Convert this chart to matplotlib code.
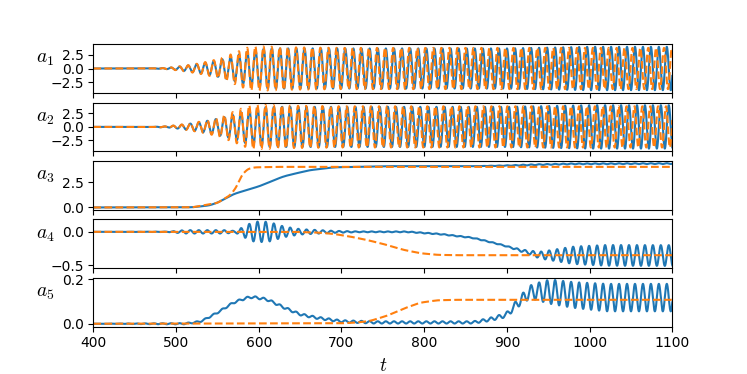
import numpy as np
import matplotlib
matplotlib.use('Agg')
import matplotlib.pyplot as plt

plt.rcParams['mathtext.fontset'] = 'cm'

# time axis
t_start, t_end = 400, 1100
t = np.linspace(t_start, t_end, 14001)
dt = t[1] - t[0]

# oscillation period (blue / orange)
period_t = [400, 540, 600, 1100]
period_blue = [10.5, 10.3, 9.9, 9.6]
period_orange = [10.5, 10.3, 9.85, 9.52]

# a1 / a2 envelopes
env_t_blue = [400, 470, 490, 510, 530, 550, 570, 590, 610, 640, 900, 950, 1000, 1100]
env_blue = [0, 0.01, 0.1, 0.45, 0.9, 1.5, 2.25, 3.3, 3.7, 3.7, 3.7, 3.85, 4.0, 4.0]
env_t_orange = [400, 470, 490, 510, 530, 550, 570, 590, 610, 640, 700, 1100]
env_orange = [0, 0.01, 0.12, 0.5, 1.0, 1.7, 2.8, 4.1, 4.05, 3.9, 3.8, 3.8]

# a3
a3_t_blue = [400, 520, 540, 550, 570, 600, 630, 660, 690, 750, 860, 900, 940, 980, 1100]
a3_blue = [0, 0.02, 0.2, 0.47, 1.35, 2.1, 3.1, 3.7, 4.0, 4.12, 4.12, 4.18, 4.28, 4.35, 4.38]
a3_t_ripple = [400, 860, 920, 1100]
a3_ripple = [0, 0.005, 0.04, 0.04]
a3_t_orange = [400, 520, 550, 565, 572, 580, 587, 595, 620, 1100]
a3_orange = [0, 0.02, 0.45, 1.2, 1.9, 3.3, 3.85, 4.0, 4.05, 4.05]

# a4
a4_t_mean = [400, 780, 820, 859, 892, 920, 940, 1100]
a4_mean = [0, 0, -0.035, -0.09, -0.19, -0.29, -0.35, -0.355]
a4_t_amp = [400, 490, 510, 560, 572, 585, 595, 612, 630, 650, 690, 720, 900, 920, 940, 960, 980, 1020, 1100]
a4_amp = [0, 0.003, 0.025, 0.025, 0.01, 0.1, 0.155, 0.15, 0.08, 0.04, 0.015, 0.006, 0.006, 0.02, 0.05, 0.09, 0.13, 0.155, 0.155]
a4_t_orange = [400, 640, 670, 690, 710, 730, 750, 775, 795, 816, 840, 1100]
a4_orange = [0, 0, -0.01, -0.03, -0.07, -0.12, -0.18, -0.27, -0.32, -0.345, -0.35, -0.35]

# a5
a5_t_mean = [400, 510, 530, 550, 570, 590, 610, 630, 650, 670, 700, 740, 860, 880, 900, 912,
             928, 952, 980, 1020, 1100]
a5_mean = [0, 0, 0.01, 0.05, 0.097, 0.122, 0.11, 0.074, 0.042, 0.027, 0.011, 0.006, 0.006, 0.02,
           0.04, 0.09, 0.145, 0.145, 0.13, 0.118, 0.118]
a5_t_amp = [400, 520, 600, 700, 860, 900, 928, 952, 980, 1020, 1100]
a5_amp = [0, 0.003, 0.005, 0.005, 0.005, 0.01, 0.03, 0.055, 0.058, 0.062, 0.062]
a5_t_orange = [400, 700, 720, 735, 755, 775, 795, 816, 840, 1100]
a5_orange = [0, 0.002, 0.006, 0.013, 0.036, 0.068, 0.095, 0.106, 0.108, 0.108]


def smooth_curve(kt, kv, sigma=3.0):
    y = np.interp(t, kt, kv)
    n = int(sigma / dt)
    k = np.exp(-0.5 * (np.arange(-3 * n, 3 * n + 1) / n) ** 2)
    k /= k.sum()
    ypad = np.concatenate([np.full(3 * n, y[0]), y, np.full(3 * n, y[-1])])
    return np.convolve(ypad, k, mode='valid')


def phase_from_period(kt, kp):
    omega = 2 * np.pi / np.interp(t, kt, kp)
    return np.cumsum(omega) * dt


ph_b = phase_from_period(period_t, period_blue)
ph_o = phase_from_period(period_t, period_orange)

eb = smooth_curve(env_t_blue, env_blue)
eo = smooth_curve(env_t_orange, env_orange)

series = [
    (eb * np.cos(ph_b), eo * np.cos(ph_o)),
    (eb * np.sin(ph_b), eo * np.sin(ph_o)),
    (smooth_curve(a3_t_blue, a3_blue) + smooth_curve(a3_t_ripple, a3_ripple) * np.cos(ph_b),
     smooth_curve(a3_t_orange, a3_orange, 2.0)),
    (smooth_curve(a4_t_mean, a4_mean) + smooth_curve(a4_t_amp, a4_amp) * np.sin(ph_b),
     smooth_curve(a4_t_orange, a4_orange)),
    (smooth_curve(a5_t_mean, a5_mean) + smooth_curve(a5_t_amp, a5_amp) * np.cos(ph_b),
     smooth_curve(a5_t_orange, a5_orange)),
]
ylabels = [r'$a_1$', r'$a_2$', r'$a_3$', r'$a_4$', r'$a_5$']
yticks = [[-2.5, 0, 2.5], [-2.5, 0, 2.5], [0, 2.5], [-0.5, 0], [0, 0.2]]

fig, axes = plt.subplots(5, 1, sharex=True, figsize=(7.47, 3.74), dpi=100)
fig.subplots_adjust(left=0.125, right=0.9, top=0.882, bottom=0.127, hspace=0.2)

for ax, (blue, orange), lab, yt in zip(axes, series, ylabels, yticks):
    ax.plot(t, blue, color='C0')
    ax.plot(t, orange, color='C1', linestyle='--')
    ax.set_yticks(yt)
    ax.set_ylabel(lab, rotation=0, fontsize=14)
    ax.yaxis.set_label_coords(-0.083, 0.5)

axes[-1].set_xlim(t_start, t_end)
axes[-1].set_xticks(np.arange(400, 1101, 100))
axes[-1].set_xlabel(r'$t$', fontsize=14)

fig.savefig('out.png', dpi=100)
